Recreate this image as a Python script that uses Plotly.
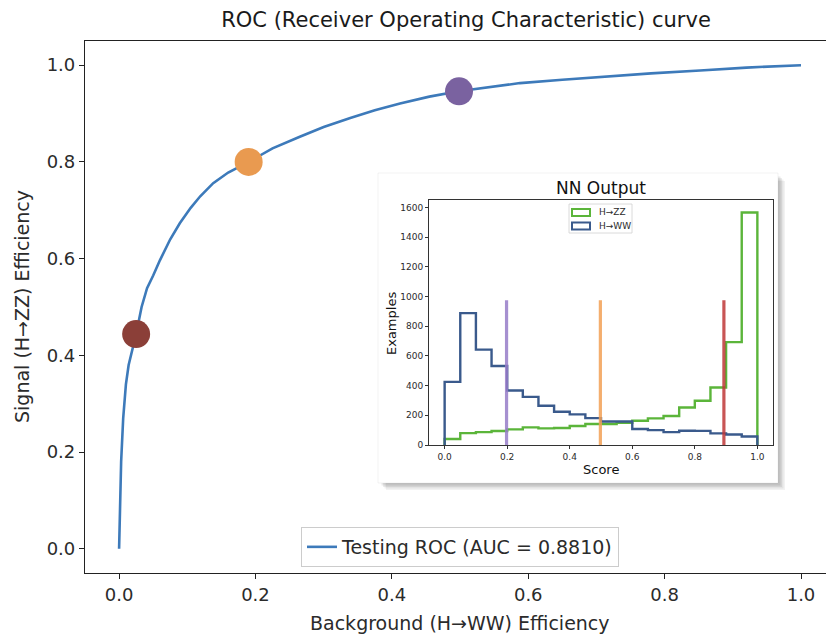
import plotly.graph_objects as go

# ---------------- data ----------------
roc_fpr = [0.0, 0.001, 0.003, 0.006, 0.010, 0.014, 0.019, 0.025, 0.033, 0.041,
           0.050, 0.060, 0.075, 0.089, 0.105, 0.119, 0.138, 0.160, 0.190, 0.225,
           0.265, 0.300, 0.339, 0.375, 0.412, 0.455, 0.498, 0.545, 0.588, 0.650,
           0.705, 0.780, 0.852, 0.920, 1.0]
roc_tpr = [0.0, 0.08, 0.18, 0.27, 0.34, 0.38, 0.41, 0.444, 0.50, 0.539,
           0.565, 0.597, 0.640, 0.673, 0.705, 0.729, 0.756, 0.778, 0.800, 0.828,
           0.852, 0.872, 0.891, 0.907, 0.921, 0.935, 0.946, 0.955, 0.963, 0.970,
           0.976, 0.983, 0.989, 0.995, 1.0]

wp_fpr = [0.025, 0.19, 0.4985]
wp_tpr = [0.444, 0.80, 0.946]
wp_colors = ["#8B3F38", "#E99A50", "#7A62A0"]

bin_edges = [round(i * 0.05, 2) for i in range(21)]
hist_zz = [40, 80, 87, 94, 105, 119, 112, 114, 128, 141,
           141, 150, 163, 179, 195, 253, 298, 387, 693, 1566]
hist_ww = [425, 888, 642, 532, 367, 324, 264, 224, 206, 181,
           158, 158, 108, 100, 87, 96, 95, 78, 71, 57]

thresholds = [0.198, 0.498, 0.893]
threshold_top = 975
threshold_colors = ["rgba(150,125,200,0.85)", "rgba(242,160,85,0.85)", "rgba(190,55,55,0.85)"]

main_xticks = [0.0, 0.2, 0.4, 0.6, 0.8, 1.0]
main_yticks = [0.0, 0.2, 0.4, 0.6, 0.8, 1.0]
inset_xticks = [0.0, 0.2, 0.4, 0.6, 0.8, 1.0]
inset_yticks = [0, 200, 400, 600, 800, 1000, 1200, 1400, 1600]

ZZ_COLOR = "#5BB53A"
WW_COLOR = "#3A5A8C"
ROC_COLOR = "#3D7ABA"
FONT = "DejaVu Sans"
TXT = "#2b2b2b"

W, H = 826, 634
ML, MR, MT, MB = 85, 0, 41, 61
PW, PH = W - ML - MR, H - MT - MB


def px(x, y):
    return (x - ML) / PW, (H - MB - y) / PH


def step_xy(edges, vals):
    xs = [edges[0]] + edges[:-1] + [edges[-1], edges[-1]]
    ys = [0] + vals + [vals[-1], 0]
    return xs, ys


fig = go.Figure()

# ROC curve
fig.add_trace(go.Scatter(x=roc_fpr, y=roc_tpr, mode="lines",
                         line=dict(color=ROC_COLOR, width=2.6),
                         name="Testing ROC (AUC = 0.8810)", xaxis="x", yaxis="y"))
fig.add_trace(go.Scatter(x=wp_fpr, y=wp_tpr, mode="markers",
                         marker=dict(size=28, color=wp_colors, line=dict(width=0)),
                         showlegend=False, xaxis="x", yaxis="y"))

# inset histograms
xs, ys = step_xy(bin_edges, hist_zz)
fig.add_trace(go.Scatter(x=xs, y=ys, mode="lines", line_shape="hv",
                         line=dict(color=ZZ_COLOR, width=2.4),
                         showlegend=False, xaxis="x2", yaxis="y2"))
xs, ys = step_xy(bin_edges, hist_ww)
fig.add_trace(go.Scatter(x=xs, y=ys, mode="lines", line_shape="hv",
                         line=dict(color=WW_COLOR, width=2.4),
                         showlegend=False, xaxis="x2", yaxis="y2"))
for t, c in zip(thresholds, threshold_colors):
    fig.add_trace(go.Scatter(x=[t, t], y=[0, threshold_top], mode="lines",
                             line=dict(color=c, width=3.2),
                             showlegend=False, xaxis="x2", yaxis="y2"))

shapes = []
# inset frame with drop shadow
bx0, by0, bx1, by1 = 378, 173, 778, 483
for i, a in enumerate([0.05, 0.06, 0.07, 0.08]):
    off = 7 - i * 1.5
    x0, y0 = px(bx0 + off + 1, by0 + off + 1)
    x1, y1 = px(bx1 + off, by1 + off)
    shapes.append(dict(type="rect", xref="paper", yref="paper", x0=x0, y0=y0, x1=x1, y1=y1,
                       fillcolor=f"rgba(0,0,0,{a})", line=dict(width=0), layer="below"))
x0, y0 = px(bx0, by0)
x1, y1 = px(bx1, by1)
shapes.append(dict(type="rect", xref="paper", yref="paper", x0=x0, y0=y0, x1=x1, y1=y1,
                   fillcolor="white", line=dict(color="rgba(0,0,0,0.05)", width=1), layer="below"))

# inset legend (drawn manually)
lx0, ly0 = px(569, 204)
lx1, ly1 = px(632, 233)
shapes.append(dict(type="rect", xref="paper", yref="paper", x0=lx0, y0=ly0, x1=lx1, y1=ly1,
                   fillcolor="white", line=dict(color="#d0d0d0", width=0.8), layer="below"))
annotations = []
for (yc, col, label) in [(212.5, ZZ_COLOR, "H→ZZ"), (226, WW_COLOR, "H→WW")]:
    r0 = px(572, yc - 3.5)
    r1 = px(590, yc + 3.5)
    shapes.append(dict(type="rect", xref="paper", yref="paper", x0=r0[0], y0=r0[1],
                       x1=r1[0], y1=r1[1], fillcolor="white",
                       line=dict(color=col, width=2), layer="below"))
    tx, ty = px(597, yc)
    annotations.append(dict(x=tx, y=ty, xref="paper", yref="paper", text=label,
                            showarrow=False, xanchor="left", yanchor="middle",
                            font=dict(family=FONT, size=9, color=TXT)))

# inset title and axis titles
tx, ty = px(601, 188)
annotations.append(dict(x=tx, y=ty, xref="paper", yref="paper", text="NN Output",
                        showarrow=False, xanchor="center", yanchor="middle",
                        font=dict(family=FONT, size=17, color="#111")))
tx, ty = px(601, 469)
annotations.append(dict(x=tx, y=ty, xref="paper", yref="paper", text="Score",
                        showarrow=False, xanchor="center", yanchor="middle",
                        font=dict(family=FONT, size=13, color="#111")))
tx, ty = px(391, 324)
annotations.append(dict(x=tx, y=ty, xref="paper", yref="paper", text="Examples",
                        showarrow=False, xanchor="center", yanchor="middle", textangle=-90,
                        font=dict(family=FONT, size=13, color="#111")))

# main axis titles as annotations for exact placement
tx, ty = px(460, 623)
annotations.append(dict(x=tx, y=ty, xref="paper", yref="paper",
                        text="Background (H→WW) Efficiency",
                        showarrow=False, xanchor="center", yanchor="middle",
                        font=dict(family=FONT, size=19, color=TXT)))
tx, ty = px(22, 307)
annotations.append(dict(x=tx, y=ty, xref="paper", yref="paper",
                        text="Signal (H→ZZ) Efficiency", textangle=-90,
                        showarrow=False, xanchor="center", yanchor="middle",
                        font=dict(family=FONT, size=19, color=TXT)))

ix0, iy0 = px(429, 445)
ix1, iy1 = px(773, 200)

fig.update_layout(
    width=W, height=H,
    margin=dict(l=ML, r=MR, t=MT, b=MB),
    paper_bgcolor="white", plot_bgcolor="rgba(0,0,0,0)",
    font=dict(family=FONT, color=TXT),
    title=dict(text="ROC (Receiver Operating Characteristic) curve",
               x=466 / W, xanchor="center",
               y=1 - 20 / H, yanchor="middle",
               font=dict(family=FONT, size=21, color="#1a1a1a")),
    showlegend=True,
    legend=dict(x=px(460, 0)[0], y=px(0, 567)[1], xanchor="center", yanchor="bottom",
                bgcolor="rgba(255,255,255,0.85)", bordercolor="#cccccc", borderwidth=1,
                font=dict(family=FONT, size=19, color=TXT)),
    xaxis=dict(domain=[0, 1], range=[-0.05, (W - 119) / 682],
               tickvals=main_xticks, tickformat=".1f", showgrid=False, zeroline=False,
               showline=True, linecolor="#222", linewidth=1.2, mirror=True,
               ticks="outside", ticklen=5, tickcolor="#222", tickwidth=1.2,
               tickfont=dict(family=FONT, size=18, color=TXT),
               anchor="y"),
    yaxis=dict(domain=[0, 1], range=[-0.05, 1.05],
               tickvals=main_yticks, tickformat=".1f", showgrid=False, zeroline=False,
               showline=True, linecolor="#222", linewidth=1.2, mirror=False,
               ticks="outside", ticklen=5, tickcolor="#222", tickwidth=1.2,
               tickfont=dict(family=FONT, size=18, color=TXT),
               anchor="x"),
    xaxis2=dict(domain=[ix0, ix1], range=[-0.05, 1.05], anchor="y2",
                tickvals=inset_xticks, tickformat=".1f", showgrid=False, zeroline=False,
                showline=True, linecolor="#333", linewidth=1, mirror=True,
                ticks="outside", ticklen=3, tickcolor="#333",
                tickfont=dict(family=FONT, size=9, color=TXT)),
    yaxis2=dict(domain=[iy0, iy1], range=[0, 1650], anchor="x2",
                tickvals=inset_yticks, showgrid=False, zeroline=False,
                showline=True, linecolor="#333", linewidth=1, mirror=True,
                ticks="outside", ticklen=3, tickcolor="#333",
                tickfont=dict(family=FONT, size=9, color=TXT)),
    shapes=shapes,
    annotations=annotations,
)

fig.write_html("out.html")
